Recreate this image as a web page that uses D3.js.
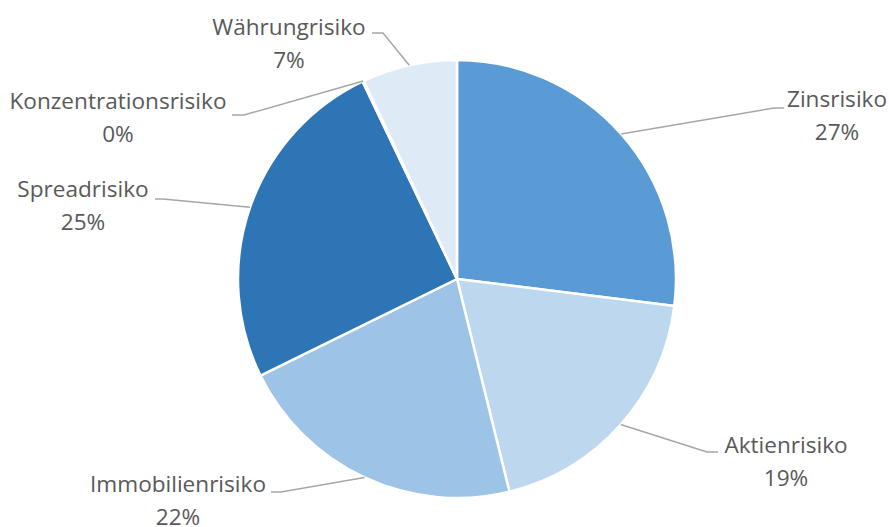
<!DOCTYPE html>
<html>
<head>
<meta charset="utf-8">
<script src="https://cdn.jsdelivr.net/npm/d3@7"></script>
<style>
  html, body { margin: 0; padding: 0; background: #ffffff; }
  svg { display: block; }
</style>
</head>
<body>
<svg id="chart" width="889" height="527"></svg>
<script>
// ---- data ----
const categories = ["Zinsrisiko", "Aktienrisiko", "Immobilienrisiko", "Spreadrisiko", "Konzentrationsrisiko", "Währungrisiko"];
const values = [27.0, 19.2, 21.6, 25.2, 0.1, 7.0];
const colors = ["#5B9BD5", "#BDD7EE", "#9DC3E6", "#2E75B6", "#1F4E79", "#DEEBF7"];

// ---- label layout (text anchor point, elbow point) ----
const labelLayout = [
  { tx: 837, ty: 107, ex: 774, ey: 108, hx: 784 },
  { tx: 786, ty: 453, ex: 707, ey: 452, hx: 718 },
  { tx: 178, ty: 492, ex: 281, ey: 492, hx: 271 },
  { tx: 83,  ty: 197, ex: 163, ey: 199, hx: 155 },
  { tx: 118, ty: 109, ex: 244, ey: 115, hx: 232 },
  { tx: 289, ty: 35,  ex: 383, ey: 33,  hx: 372 }
];

const svg = d3.select("#chart");
const cx = 457, cy = 279, r = 219;
const g = svg.append("g").attr("transform", `translate(${cx},${cy})`);
const fontFamily = "'Open Sans', sans-serif";

// fit font size so that the longest label matches the reference width (~217px)
const probe = svg.append("text").attr("font-family", fontFamily).attr("font-size", 20).text("Konzentrationsrisiko");
const probeW = probe.node().getComputedTextLength();
probe.remove();
const fontSize = 20 * 217 / probeW;

const total = d3.sum(values);
const data = categories.map((c, i) => ({ name: c, value: values[i], color: colors[i], layout: labelLayout[i] }));

const pie = d3.pie().value(d => d.value).sort(null);
const arcs = pie(data);
const arc = d3.arc().innerRadius(0).outerRadius(r);

g.selectAll("path.slice")
  .data(arcs)
  .enter().append("path")
  .attr("class", "slice")
  .attr("d", arc)
  .attr("fill", d => d.data.color)
  .attr("stroke", "#ffffff")
  .attr("stroke-width", 2.5)
  .attr("stroke-linejoin", "round");

// leader lines
const lineGen = d3.line();
arcs.forEach(a => {
  const mid = (a.startAngle + a.endAngle) / 2;
  const px = cx + r * Math.sin(mid);
  const py = cy - r * Math.cos(mid);
  const L = a.data.layout;
  svg.append("path")
    .attr("d", lineGen([[px, py], [L.ex, L.ey], [L.hx, L.ey]]))
    .attr("fill", "none")
    .attr("stroke", "#a6a6a6")
    .attr("stroke-width", 1.5);
});

// labels
const fmt = v => Math.round(v / total * 100) + "%";
arcs.forEach(a => {
  const L = a.data.layout;
  const t = svg.append("text")
    .attr("x", L.tx).attr("y", L.ty)
    .attr("text-anchor", "middle")
    .attr("font-family", fontFamily)
    .attr("font-size", fontSize)
    .attr("fill", "#595959");
  t.append("tspan").attr("x", L.tx).text(a.data.name);
  t.append("tspan").attr("x", L.tx).attr("dy", 33).text(fmt(a.data.value));
});
</script>
</body>
</html>
